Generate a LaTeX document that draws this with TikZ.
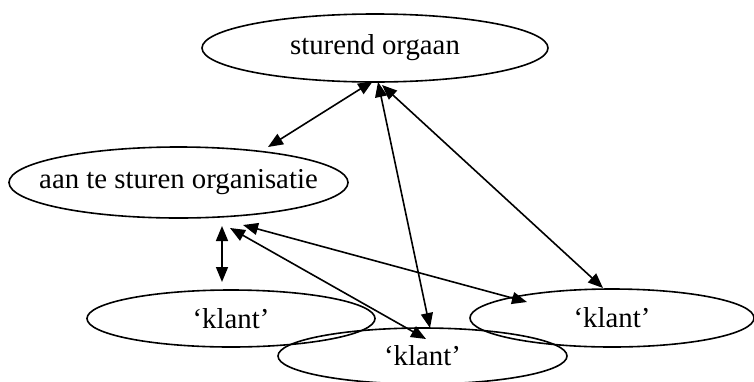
\documentclass[tikz,border=0pt]{standalone}
\usepackage{fontspec}
\setmainfont{Liberation Serif}
\usetikzlibrary{shapes.geometric,arrows.meta,calc}
\begin{document}
\begin{tikzpicture}[x=1pt,y=-1pt,
  party/.style={ellipse,draw,line width=1.6pt,inner sep=0pt,
    font=\fontsize{28.8}{34}\selectfont},
  link/.style={line width=1.6pt,{Triangle[length=15pt,width=12pt]}-{Triangle[length=15pt,width=12pt]}}]
\useasboundingbox (0,0) rectangle (754,381);
% parties (text kept out of the shape size so each ellipse keeps its own size)
\node[party,minimum width=346,minimum height=68] (top) at (375,48) {\makebox[0pt]{sturend orgaan}};
\node[party,minimum width=339,minimum height=71] (mid) at (178.5,182.5) {\makebox[0pt]{aan te sturen organisatie}};
\node[party,minimum width=288,minimum height=57] (kl) at (231,318.5) {\makebox[0pt]{`klant'}};
\node[party,minimum width=284,minimum height=58] (kr) at (612,318) {\makebox[0pt]{`klant'}};
\node[party,minimum width=289,minimum height=56] (km) at (422.5,356) {\makebox[0pt]{`klant'}};
% relations
\draw[link] ($(mid)+(89.5,-35.5)$) -- ($(top)+(-2,33)$);
\draw[link] ($(top)+(3,34)$) -- ($(km)+(7.5,-28)$);
\draw[link] ($(top)+(7,37)$) -- ($(kr)+(-9,-30)$);
\draw[link] ($(mid)+(43.5,43.5)$) -- ($(kl)+(-9,-36.5)$);
\draw[link] ($(mid)+(51.5,45.5)$) -- ($(km)+(3.5,-17)$);
\draw[link] ($(mid)+(64.5,42.5)$) -- ($(kr)+(-85,-16)$);
\end{tikzpicture}
\end{document}
